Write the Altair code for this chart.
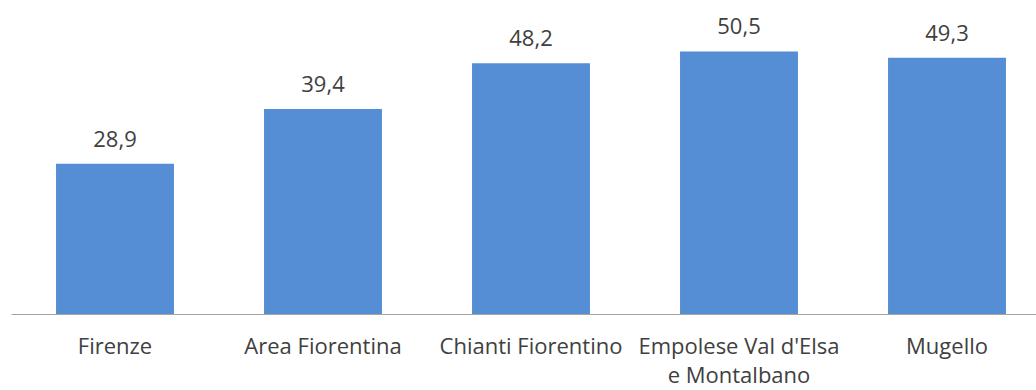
import altair as alt
import pandas as pd

categories = ["Firenze", "Area Fiorentina", "Chianti Fiorentino",
              "Empolese Val d'Elsa e Montalbano", "Mugello"]
values = [28.9, 39.4, 48.2, 50.5, 49.3]

df = pd.DataFrame({"area": categories, "valore": values})

FONT = "Open Sans"
BAR = "#558ed5"
TXT = "#404040"

x = alt.X("area:N", sort=categories, title=None,
          scale=alt.Scale(paddingInner=0.433, paddingOuter=0.2165, range=[0, 1040]),
          axis=alt.Axis(labelAngle=0, ticks=False, domainColor="#a6a6a6",
                        domainWidth=1, labelFont=FONT, labelFontSize=22,
                        labelColor=TXT, labelPadding=22, labelLineHeight=29,
                        labelLimit=400, grid=False,
                        labelExpr="datum.label == \"Empolese Val d'Elsa e Montalbano\" ? [\"Empolese Val d'Elsa\", \"e Montalbano\"] : datum.label"))
y = alt.Y("valore:Q", title=None, scale=alt.Scale(domain=[0, 60]),
          axis=None)

bars = alt.Chart(df).mark_bar(color=BAR).encode(x=x, y=y)
labels = alt.Chart(df).transform_calculate(
    lab="replace(format(datum.valore, '.1f'), '.', ',')"
).mark_text(font=FONT, fontSize=22, color=TXT, baseline="alphabetic", dy=-17).encode(
    x=x, y=y, text="lab:N")

chart = (bars + labels).properties(
    width=1025, height=312,
    background="white",
    autosize=alt.AutoSizeParams(type="none"),
    padding={"left": 11, "top": 2, "right": 0, "bottom": 76}
).configure_view(strokeWidth=0, stroke="transparent")

chart.save("out.html", embed_options={"renderer": "svg", "actions": False})
